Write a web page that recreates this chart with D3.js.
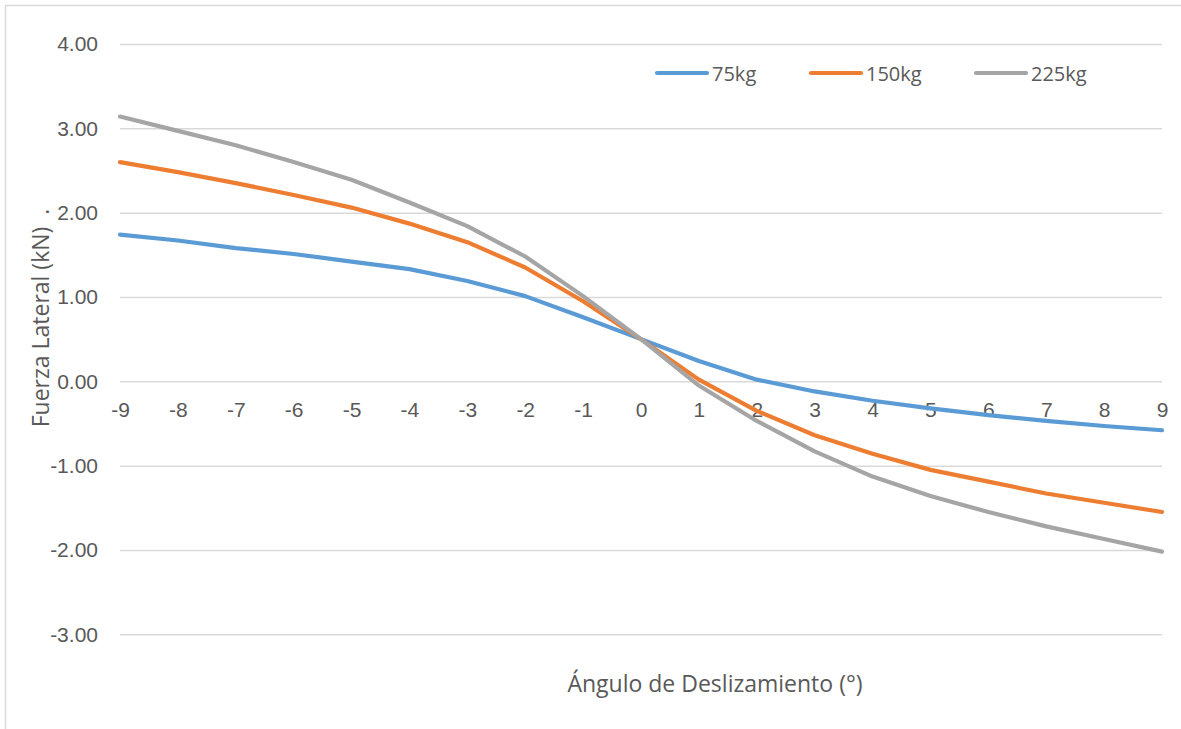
<!DOCTYPE html>
<html>
<head>
<meta charset="utf-8">
<script src="https://cdn.jsdelivr.net/npm/d3@7"></script>
<style>
  body { margin: 0; background: #fff; }
  svg { display: block; font-family: "Open Sans", "Noto Sans", sans-serif; }
</style>
</head>
<body>
<svg id="chart"></svg>
<script>
// slip angle categories (degrees)
const angles = [-9, -8, -7, -6, -5, -4, -3, -2, -1, 0, 1, 2, 3, 4, 5, 6, 7, 8, 9];

// lateral force (kN) per load
const f75 = [1.74, 1.67, 1.58, 1.51, 1.42, 1.33, 1.19, 1.01, 0.76, 0.50, 0.24, 0.02, -0.12, -0.23, -0.32, -0.40, -0.47, -0.53, -0.58];
const f150 = [2.60, 2.48, 2.35, 2.21, 2.06, 1.87, 1.65, 1.35, 0.95, 0.50, 0.02, -0.35, -0.64, -0.86, -1.05, -1.19, -1.33, -1.44, -1.55];
const f225 = [3.14, 2.97, 2.80, 2.60, 2.39, 2.12, 1.84, 1.48, 1.01, 0.50, -0.05, -0.47, -0.83, -1.13, -1.36, -1.55, -1.72, -1.87, -2.02];

const seriesNames = ["75kg", "150kg", "225kg"];
const yTicks = [4, 3, 2, 1, 0, -1, -2, -3];

const W = 1181, H = 729;
const margin = { top: 44, right: 19, bottom: 95, left: 120 };
const colors = ["#5B9BD5", "#ED7D31", "#A5A5A5"];
const tickFont = "'Liberation Sans', Arial, sans-serif";

const svg = d3.select("#chart").attr("width", W).attr("height", H);

// outer chart frame
svg.append("rect")
  .attr("x", 5.5).attr("y", 5.5)
  .attr("width", W + 10).attr("height", H + 10)
  .attr("fill", "none")
  .attr("stroke", "#D9D9D9")
  .attr("stroke-width", 1.5);

const x = d3.scalePoint().domain(angles).range([margin.left, W - margin.right]);
const y = d3.scaleLinear().domain([-3, 4]).range([634.3, 44]);

// excel style: plain hyphen, not unicode minus
const fmtY = d => d3.format(".2f")(d).replace("\u2212", "-");
const fmtX = d => String(d);

// horizontal gridlines + y labels
const yAxis = d3.axisLeft(y)
  .tickValues(yTicks)
  .tickFormat(fmtY)
  .tickSize(-(W - margin.right - margin.left))
  .tickPadding(22);

svg.append("g")
  .attr("transform", `translate(${margin.left},0)`)
  .call(yAxis)
  .call(g => g.select(".domain").remove())
  .call(g => g.selectAll("line").attr("stroke", "#D9D9D9").attr("stroke-width", 1.5))
  .call(g => g.selectAll("text")
    .attr("fill", "#595959")
    .attr("font-size", "21px")
    .attr("font-family", tickFont));

// category axis labels sit just under the zero line
const xAxis = d3.axisBottom(x).tickSize(0).tickPadding(21).tickFormat(fmtX);
svg.append("g")
  .attr("transform", `translate(0,${y(0)})`)
  .call(xAxis)
  .call(g => g.select(".domain").remove())
  .call(g => g.selectAll("text")
    .attr("fill", "#595959")
    .attr("font-size", "21px")
    .attr("font-family", tickFont));

// lines
const line = d3.line()
  .x((d, i) => x(angles[i]))
  .y(d => y(d));

[f75, f150, f225].forEach((vals, k) => {
  svg.append("path")
    .datum(vals)
    .attr("d", line)
    .attr("fill", "none")
    .attr("stroke", colors[k])
    .attr("stroke-width", 4.2)
    .attr("stroke-linejoin", "round")
    .attr("stroke-linecap", "round");
});

// legend
const legendX = [657, 811, 976];
const legend = svg.append("g");
seriesNames.forEach((name, k) => {
  legend.append("line")
    .attr("x1", legendX[k]).attr("x2", legendX[k] + 50)
    .attr("y1", 73).attr("y2", 73)
    .attr("stroke", colors[k])
    .attr("stroke-width", 4.2)
    .attr("stroke-linecap", "round");
  legend.append("text")
    .attr("x", legendX[k] + 55)
    .attr("y", 81)
    .attr("fill", "#595959")
    .attr("font-size", "20px")
    .text(name);
});

// axis titles
svg.append("text")
  .attr("x", 715)
  .attr("y", 692)
  .attr("text-anchor", "middle")
  .attr("fill", "#595959")
  .attr("font-size", "23px")
  .text("Ángulo de Deslizamiento (°)");

svg.append("text")
  .attr("transform", "translate(49,318) rotate(-90)")
  .attr("text-anchor", "middle")
  .attr("fill", "#595959")
  .attr("font-size", "23px")
  .attr("xml:space", "preserve")
  .style("white-space", "pre")
  .text("Fuerza Lateral (kN)  .");
</script>
</body>
</html>
